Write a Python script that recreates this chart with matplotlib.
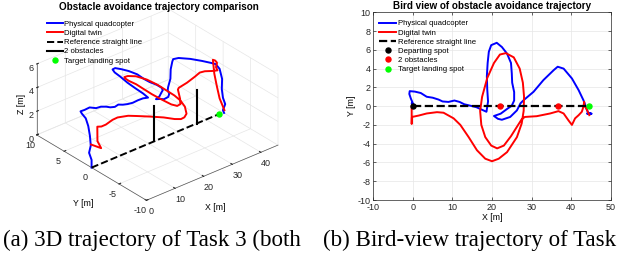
import numpy as np
import matplotlib
matplotlib.use('Agg')
import matplotlib.pyplot as plt
from matplotlib.lines import Line2D
from mpl_toolkits.mplot3d import proj3d

plt.rcParams['font.family'] = ['Liberation Sans', 'DejaVu Sans']
plt.rcParams['font.size'] = 6.5
plt.rcParams['grid.color'] = '#e6e6e6'
plt.rcParams['grid.linewidth'] = 0.5
plt.rcParams['axes.linewidth'] = 0.5
plt.rcParams['axes.unicode_minus'] = False

# ---- trajectories (x, y in bird view, z for the 3D panel) ----
blue_x = [0, 0.2, -0.3, 0.1, 0, -0.2, -0.5, -0.9, -0.8,
          0.5, 2, 3.5, 5, 6.5, 7.5, 9, 10.5, 11.8, 13, 14.5, 16, 17.3, 18.6,
          19.0, 18.8, 18.7, 18.9, 19.2, 19.8, 21.2, 22.5, 23.8, 24.8, 25.0, 25.1, 25.6, 25.6, 25.0, 23.8, 22.2, 20.5,
          21.5, 22.5, 24.6, 26.3, 27.2, 28.0, 30.5, 33.0, 35.6, 36.6, 38.1, 40.2, 41.9, 43.1, 43.6,
          44.0, 44.3, 44.0, 44.5, 45.2, 44.3, 44.8]
blue_y = [0, 0.1, 0.3, 0.2, 0.3, 0.5, 0.8, 1.3, 1.6,
          1.55, 1.4, 1.0, 0.9, 0.7, 0.5, 0.45, 0.6, 0.45, 0.2, 0.05, -0.1, -0.35, -0.6,
          0.5, 1.8, 3.2, 4.6, 5.8, 6.5, 6.75, 6.3, 5.6, 4.6, 3.5, 2.5, 1.5, 0.6, 0.05, -0.3, -0.8, -1.05,
          -1.35, -1.45, -1.15, -0.45, 0.3, 0.64, 1.53, 2.78, 3.84, 4.2, 4.0, 2.95, 1.7, 0.64, 0.1,
          -0.4, -0.7, -0.8, -0.75, -0.8, -0.85, -0.8]
blue_z = [0, 0.6, 1.2, 1.8, 2.6, 3.4, 4.0, 4.3, 4.4,
          4.4, 4.5, 4.4, 4.4, 4.3, 4.2, 4.1, 4.1, 4.0, 4.0, 4.0, 4.1, 4.2, 4.2,
          4.2, 4.3, 4.4, 4.5, 4.5, 4.5, 4.4, 4.3, 4.2, 4.1, 4.0, 4.0, 4.0, 4.0, 4.0, 4.0, 4.0, 4.0,
          4.0, 3.9, 3.8, 3.7, 3.7, 3.8, 4.0, 4.2, 4.3, 4.3, 4.3, 4.3, 4.3, 4.3, 4.3,
          4.0, 3.2, 2.4, 1.6, 1.0, 0.6, 0.3]

red_x = [-0.3, -0.3, -0.25, -0.2,
         1.5, 3.5, 6.1, 7.75, 10.3, 12.0, 14.1, 16.2, 18.3, 20.0, 21.7, 23.8, 26.3, 27.5,
         28.0, 28.1, 27.8, 27.0, 25.5, 23.5, 22.0, 20.5, 18.8, 17.5, 17.0, 17.3, 18.3, 19.8, 21.3, 23.0, 24.8, 26.3, 27.5, 28.3,
         31.3, 34.7, 36.8, 38.1, 39.3, 40.2, 41.0, 41.9, 42.7, 43.1, 43.3, 43.3, 43.6, 44.0, 44.6]
red_y = [-0.05, -1.9, -1.2, -1.15,
         -1.0, -0.78, -0.64, -0.7, -1.3, -2.0, -3.3, -4.7, -5.6, -5.87, -5.6, -4.9, -3.3, -1.85,
         -0.5, 1.0, 2.5, 4.0, 5.2, 5.65, 5.5, 4.6, 3.0, 1.0, -0.5, -2.0, -3.3, -4.2, -4.5, -4.2, -3.2, -2.2, -1.4, -1.15,
         -1.07, -0.78, -0.53, -0.78, -1.5, -2.0, -1.3, -0.96, -0.6, -0.07, 0.46, 0.2, -0.1, -0.4, -0.96]
red_z = [2.0, 2.2, 2.6, 3.8,
         3.6, 3.5, 3.6, 3.65, 3.7, 3.7, 3.8, 3.9, 3.8, 3.7, 3.6, 3.5, 3.4, 3.4,
         3.4, 3.4, 3.5, 3.6, 3.7, 3.8, 3.9, 4.2, 4.6, 5.0, 5.1, 5.0, 4.8, 4.5, 4.3, 4.2, 4.2, 4.2, 4.2, 4.2,
         4.3, 4.4, 4.45, 4.5, 4.6, 4.7, 4.7, 4.7, 4.7, 4.7, 4.6, 3.5, 2.5, 1.5, 0.6]

ref_x = [0, 44.5]
ref_y = [0, 0]
obs_x = [22, 36.7]
obs_y = [0, 0]
obs_h = [3.0, 2.8]
start_xy = (0, 0)
target_xy = (44.5, 0)

W, H = 640, 256
fig = plt.figure(figsize=(6.4, 2.56), dpi=100)

BLUE = '#0000ff'
RED = '#ff0000'
GREEN = '#00ff00'
axcol = '#262626'
LW = 1.4

# ---------------- (a) 3D panel ----------------
ax3 = fig.add_axes([0.0, 0.1, 0.5, 0.9], projection='3d', computed_zorder=False)
ax3.set_proj_type('ortho')
ax3.view_init(elev=30, azim=-130)
box = (172, 171, 82)
zoom = 1.0
ax3.set_box_aspect(box, zoom=zoom)

ax3.plot(blue_x, blue_y, blue_z, color=BLUE, lw=LW, zorder=2)
ax3.plot(red_x, red_y, red_z, color=RED, lw=LW, zorder=3)
ax3.plot(ref_x, ref_y, [0, 0], color='k', lw=1.4, ls='--', zorder=4)
for ox, oy, oh in zip(obs_x, obs_y, obs_h):
    ax3.plot([ox, ox], [oy, oy], [0, oh], color='k', lw=1.5, zorder=5)
ax3.plot([target_xy[0]], [target_xy[1]], [0], 'o', color=GREEN, ms=3.6, zorder=6)

ax3.set_xlim(0, 46)
ax3.set_ylim(-10, 10)
ax3.set_zlim(0, 6)
ax3.set_xticks([0, 10, 20, 30, 40])
ax3.set_yticks([-10, -5, 0, 5, 10])
ax3.set_zticks([0, 2, 4, 6])
for a in (ax3.xaxis, ax3.yaxis, ax3.zaxis):
    a.set_pane_color((1, 1, 1, 0))
    a.pane.set_edgecolor('#d9d9d9')
    a.pane.set_linewidth(0.5)
    a.line.set_color('#555555')
    a.line.set_linewidth(0.5)
    a._axinfo['tick']['inward_factor'] = 0.0
    a._axinfo['tick']['outward_factor'] = 0.15
ax3.tick_params(labelsize=6.5, colors=axcol, pad=-4)
ax3.zaxis.set_tick_params(pad=-6)
ax3.xaxis.set_tick_params(pad=-4)

# axis labels of the 3D box, placed like the MATLAB figure
fig.text(215 / W, 1 - 207 / H, 'X [m]', ha='center', va='center', fontsize=6.3)
fig.text(83 / W, 1 - 204 / H, 'Y [m]', ha='center', va='center', fontsize=6.3)
fig.text(21 / W, 1 - 104 / H, 'Z [m]', ha='center', va='center', fontsize=6.3, rotation=90)

h3 = [Line2D([], [], color=BLUE, lw=LW),
      Line2D([], [], color=RED, lw=LW),
      Line2D([], [], color='k', lw=1.4, ls='--'),
      Line2D([], [], color='k', lw=1.5),
      Line2D([], [], color=GREEN, marker='o', ls='none', ms=3.6)]
l3 = ['Physical quadcopter', 'Digital twin', 'Reference straight line', '2 obstacles', 'Target landing spot']
ax3.legend(h3, l3, loc='upper left', bbox_to_anchor=(46.7 / W, 1 - 20.5 / H), bbox_transform=fig.transFigure,
           frameon=False, fontsize=5.6, handlelength=2.1, handletextpad=0.15, labelspacing=0.22,
           borderpad=0, borderaxespad=0)
fig.text(158.8 / W, 1 - 9.5 / H, 'Obstacle avoidance trajectory comparison', ha='center', va='baseline',
         fontsize=7.1, fontweight='bold')


def box_px(ax, x, y, z):
    xs, ys, _ = proj3d.proj_transform(x, y, z, ax.get_proj())
    px, py = ax.transData.transform((xs, ys))
    return px, H - py


# put the 3D box where it sits in the reference
fig.canvas.draw()
for _ in range(3):
    lx, ly = box_px(ax3, 0, 10, 0)
    rx, ry = box_px(ax3, 46, -10, 0)
    zoom *= (278 - 36.7) / (rx - lx)
    ax3.set_box_aspect(box, zoom=zoom)
    fig.canvas.draw()
    lx, ly = box_px(ax3, 0, 10, 0)
    rx, ry = box_px(ax3, 46, -10, 0)
    dx = (36.7 + 278) / 2 - (lx + rx) / 2
    dy = (135 + 145) / 2 - (ly + ry) / 2
    pos = ax3.get_position(original=True)
    ax3.set_position([pos.x0 + dx / W, pos.y0 - dy / H, pos.width, pos.height])
    fig.canvas.draw()

# ---------------- (b) bird view ----------------
ax = fig.add_axes([373.3 / W, 1 - 200 / H, (610.7 - 373.3) / W, (200 - 12.3) / H])
ax.plot(blue_x, blue_y, color=BLUE, lw=LW)
ax.plot(red_x, red_y, color=RED, lw=LW)
ax.plot(ref_x, ref_y, color='k', lw=1.6, ls='--')
ax.plot([start_xy[0]], [start_xy[1]], 'o', color='k', ms=3.6)
ax.plot(obs_x, obs_y, 'o', color=RED, ms=3.6, ls='none')
ax.plot([target_xy[0]], [target_xy[1]], 'o', color=GREEN, ms=3.6)
ax.set_xlim(-10, 50)
ax.set_ylim(-10, 10)
ax.set_xticks(np.arange(-10, 51, 10))
ax.set_yticks(np.arange(-10, 11, 2))
ax.grid(True)
ax.set_axisbelow(True)
ax.tick_params(direction='in', top=True, right=True, length=2.5, width=0.5, labelsize=6.5,
               colors=axcol, pad=2)
for s in ax.spines.values():
    s.set_color(axcol)
ax.set_xlabel('X [m]', fontsize=6.3, labelpad=1)
ax.set_ylabel('Y [m]', fontsize=6.3, labelpad=1)
ax.set_title('Bird view of obstacle avoidance trajectory', fontsize=7.1, fontweight='bold', pad=2.5)

hb = [Line2D([], [], color=BLUE, lw=LW),
      Line2D([], [], color=RED, lw=LW),
      Line2D([], [], color='k', lw=1.6, ls='--'),
      Line2D([], [], color='k', marker='o', ls='none', ms=3.6),
      Line2D([], [], color=RED, marker='o', ls='none', ms=3.6),
      Line2D([], [], color=GREEN, marker='o', ls='none', ms=3.6)]
lb = ['Physical quadcopter', 'Digital twin', 'Reference straight line', 'Departing spot', '2 obstacles',
      'Target landing spot']
ax.legend(hb, lb, loc='upper left', bbox_to_anchor=(379.3 / W, 1 - 20 / H), bbox_transform=fig.transFigure,
          frameon=False, fontsize=5.6, handlelength=2.2, handletextpad=0.15, labelspacing=0.22,
          borderpad=0, borderaxespad=0)

# captions
fig.text(3 / W, 1 - 246 / H, '(a) 3D trajectory of Task 3 (both', family='Liberation Serif', fontsize=16.6,
         va='baseline')
fig.text(323 / W, 1 - 246 / H, '(b) Bird-view trajectory of Task', family='Liberation Serif', fontsize=16.6,
         va='baseline')

fig.savefig('out.png', dpi=100)
